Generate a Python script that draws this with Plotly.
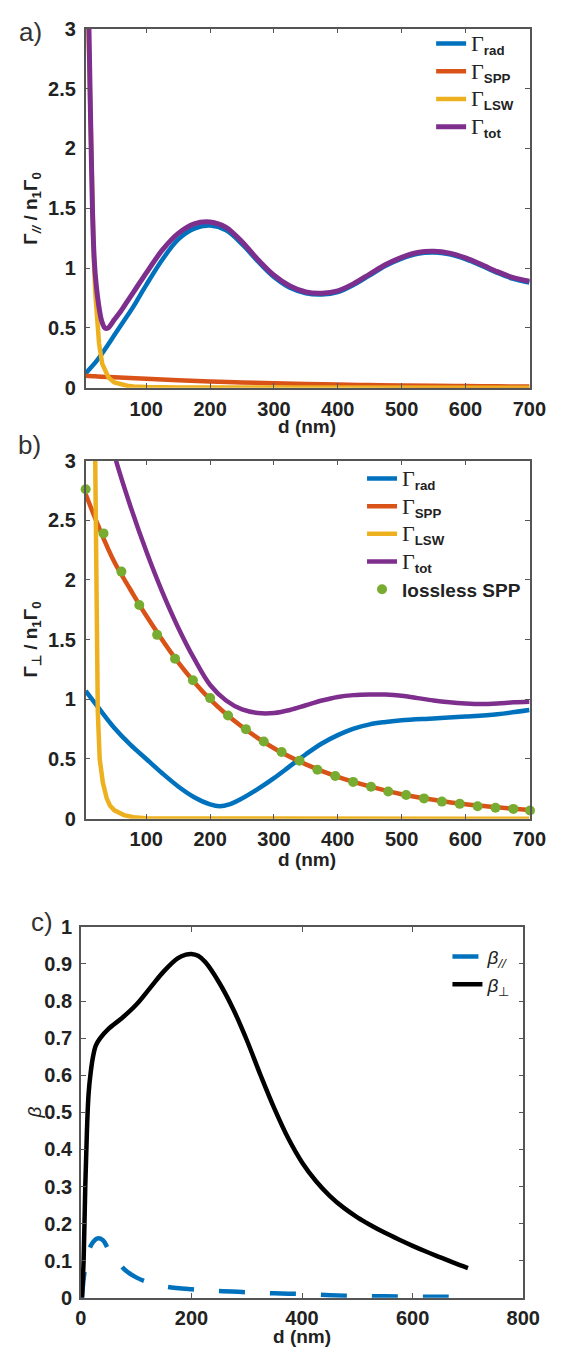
import plotly.graph_objects as go

# ---------------- data: panel a (parallel dipole) ----------------
d_a_rad = [5, 10, 20, 30, 40, 50, 60, 70, 80, 90, 100, 125, 150, 175, 200, 225, 250, 275, 300,
           325, 350, 375, 400, 425, 450, 475, 500, 525, 550, 575, 600, 625, 650, 675, 700]
a_rad = [0.12, 0.15, 0.21, 0.28, 0.36, 0.44, 0.52, 0.60, 0.68, 0.77, 0.86, 1.07, 1.24, 1.33, 1.355,
         1.315, 1.20, 1.055, 0.925, 0.835, 0.79, 0.78, 0.80, 0.86, 0.94, 1.02, 1.08, 1.12, 1.13,
         1.115, 1.075, 1.02, 0.96, 0.91, 0.88]
d_a_spp = [5, 10, 20, 30, 50, 100, 150, 200, 250, 300, 350, 400, 450, 500, 550, 600, 650, 700]
a_spp = [0.100, 0.099, 0.096, 0.093, 0.088, 0.075, 0.063, 0.053, 0.045, 0.038, 0.032, 0.027,
         0.023, 0.019, 0.016, 0.014, 0.012, 0.010]
d_a_lsw = [5, 8, 10, 12, 15, 18, 20, 23, 26, 31, 36, 41, 50, 60, 70, 80, 100, 150, 200, 300, 400, 500, 600, 700]
a_lsw = [4.0, 3.3, 2.9, 2.4, 1.5, 1.05, 0.80, 0.55, 0.37, 0.20, 0.13, 0.085, 0.045, 0.027, 0.017,
         0.011, 0.006, 0.003, 0.002, 0.001, 0.001, 0.001, 0.001, 0.001]
d_a_tot = [6, 8, 10, 12, 14, 16, 18, 20, 23, 26, 30, 35, 40, 50, 60, 70, 80, 90, 100, 125, 150, 175,
           200, 225, 250, 275, 300, 325, 350, 375, 400, 425, 450, 475, 500, 525, 550, 575, 600,
           625, 650, 675, 700]
a_tot = [4.0, 3.5, 3.05, 2.45, 1.9, 1.42, 1.12, 0.95, 0.79, 0.67, 0.56, 0.50, 0.50, 0.57, 0.64,
         0.72, 0.80, 0.88, 0.96, 1.15, 1.29, 1.37, 1.385, 1.34, 1.22, 1.07, 0.94, 0.85, 0.80, 0.79,
         0.81, 0.87, 0.95, 1.03, 1.09, 1.13, 1.14, 1.125, 1.085, 1.03, 0.97, 0.92, 0.89]

# ---------------- data: panel b (perpendicular dipole) ----------------
d_b_rad = [5, 25, 50, 75, 100, 125, 150, 175, 200, 215, 230, 250, 275, 300, 325, 350, 375, 400,
           425, 450, 475, 500, 550, 600, 650, 700]
b_rad = [1.07, 0.93, 0.76, 0.62, 0.50, 0.38, 0.27, 0.18, 0.12, 0.105, 0.12, 0.17, 0.25, 0.34,
         0.44, 0.54, 0.63, 0.70, 0.755, 0.79, 0.81, 0.825, 0.84, 0.855, 0.875, 0.91]
d_b_spp = [5, 25, 50, 75, 100, 150, 200, 250, 300, 350, 400, 450, 500, 550, 600, 650, 700]
b_spp = [2.72, 2.45, 2.15, 1.92, 1.70, 1.31, 1.00, 0.77, 0.59, 0.455, 0.35, 0.27, 0.205, 0.158,
         0.12, 0.095, 0.072]
d_b_lsw = [5, 10, 15, 20, 22, 24, 27, 32, 38, 43, 50, 65, 80, 100, 150, 200, 300, 400, 500, 600, 700]
b_lsw = [10.0, 6.5, 4.2, 3.0, 1.9, 0.9, 0.5, 0.3, 0.17, 0.11, 0.07, 0.03, 0.012, 0.004, 0.001,
         0.0, 0.0, 0.0, 0.0, 0.0, 0.0]
d_b_tot = [40, 50, 75, 100, 125, 150, 175, 200, 225, 250, 275, 300, 325, 350, 375, 400, 425, 450,
           475, 500, 525, 550, 575, 600, 625, 650, 675, 700]
b_tot = [3.3, 3.05, 2.62, 2.24, 1.90, 1.60, 1.34, 1.12, 0.99, 0.915, 0.885, 0.885, 0.91, 0.95,
         0.99, 1.02, 1.035, 1.04, 1.04, 1.03, 1.01, 0.99, 0.975, 0.965, 0.96, 0.965, 0.975, 0.98]
d_b_lossless = [5, 33, 61, 89, 117, 145, 173, 200, 228, 256, 284, 312, 340, 368, 396, 424, 452,
                479, 507, 535, 563, 591, 619, 647, 675, 701]
b_lossless = [2.76, 2.39, 2.07, 1.79, 1.54, 1.34, 1.16, 1.01, 0.865, 0.75, 0.646, 0.558, 0.486,
              0.41, 0.357, 0.308, 0.267, 0.228, 0.198, 0.17, 0.143, 0.124, 0.104, 0.091, 0.082, 0.069]

# ---------------- data: panel c (beta factors) ----------------
d_c_par = [2, 5, 10, 15, 22, 30, 40, 50, 65, 80, 100, 125, 150, 200, 250, 300, 350, 400, 450,
           500, 550, 600, 650, 700]
c_par = [0.0, 0.05, 0.10, 0.13, 0.15, 0.16, 0.155, 0.13, 0.10, 0.075, 0.055, 0.04, 0.031, 0.023,
         0.018, 0.015, 0.012, 0.010, 0.007, 0.005, 0.004, 0.003, 0.003, 0.002]
d_c_perp = [2, 5, 8, 11, 14, 18, 22, 27, 35, 50, 75, 100, 125, 150, 175, 190, 200, 212, 225, 250,
            275, 300, 325, 350, 375, 400, 425, 450, 475, 500, 525, 550, 575, 600, 625, 650, 675, 700]
c_perp = [0.0, 0.10, 0.30, 0.45, 0.55, 0.61, 0.65, 0.68, 0.70, 0.725, 0.755, 0.79, 0.835, 0.88,
          0.915, 0.925, 0.927, 0.922, 0.905, 0.85, 0.78, 0.695, 0.60, 0.51, 0.43, 0.365, 0.315,
          0.275, 0.243, 0.217, 0.195, 0.175, 0.157, 0.14, 0.124, 0.109, 0.094, 0.08]

# tick values / labels
ab_xticks = [100, 200, 300, 400, 500, 600, 700]
ab_yticks = [0, 0.5, 1, 1.5, 2, 2.5, 3]
ab_ylabels = ["0", "0.5", "1", "1.5", "2", "2.5", "3"]
c_xticks = [0, 200, 400, 600, 800]
c_yticks = [0, 0.1, 0.2, 0.3, 0.4, 0.5, 0.6, 0.7, 0.8, 0.9, 1]
c_ylabels = ["0", "0.1", "0.2", "0.3", "0.4", "0.5", "0.6", "0.7", "0.8", "0.9", "1"]

# ---------------- styles ----------------
BLUE = "#0072BD"
ORANGE = "#D95319"
YELLOW = "#EDB120"
PURPLE = "#7E2F8E"
GREEN = "#77AC30"
W, H = 570, 1355
SANS = "Liberation Sans, Arial, sans-serif"
AX = "#555555"
TXT = "#222222"


def px(x):
    return x / W


def py(y):
    return 1 - y / H


def gam(sub):
    return ('<span style="font-family:Liberation Serif;font-size:22px">Γ</span>'
            '<sub><b>%s</b></sub>' % sub)


fig = go.Figure()

# panel a
fig.add_trace(go.Scatter(x=d_a_rad, y=a_rad, mode="lines", line=dict(color=BLUE, width=4.5, shape="spline"),
                         name=gam("rad"), legend="legend", xaxis="x", yaxis="y"))
fig.add_trace(go.Scatter(x=d_a_spp, y=a_spp, mode="lines", line=dict(color=ORANGE, width=4.5, shape="spline"),
                         name=gam("SPP"), legend="legend", xaxis="x", yaxis="y"))
fig.add_trace(go.Scatter(x=d_a_lsw, y=a_lsw, mode="lines", line=dict(color=YELLOW, width=4.5),
                         name=gam("LSW"), legend="legend", xaxis="x", yaxis="y"))
fig.add_trace(go.Scatter(x=d_a_tot, y=a_tot, mode="lines", line=dict(color=PURPLE, width=5, shape="spline", smoothing=0.8),
                         name=gam("tot"), legend="legend", xaxis="x", yaxis="y"))

# panel b
fig.add_trace(go.Scatter(x=d_b_rad, y=b_rad, mode="lines", line=dict(color=BLUE, width=4.5, shape="spline"),
                         name=gam("rad"), legend="legend2", xaxis="x2", yaxis="y2"))
fig.add_trace(go.Scatter(x=d_b_spp, y=b_spp, mode="lines", line=dict(color=ORANGE, width=4.5, shape="spline"),
                         name=gam("SPP"), legend="legend2", xaxis="x2", yaxis="y2"))
fig.add_trace(go.Scatter(x=d_b_lsw, y=b_lsw, mode="lines", line=dict(color=YELLOW, width=4.5),
                         name=gam("LSW"), legend="legend2", xaxis="x2", yaxis="y2"))
fig.add_trace(go.Scatter(x=d_b_tot, y=b_tot, mode="lines", line=dict(color=PURPLE, width=4.5, shape="spline"),
                         name=gam("tot"), legend="legend2", xaxis="x2", yaxis="y2"))
fig.add_trace(go.Scatter(x=d_b_lossless, y=b_lossless, mode="markers",
                         marker=dict(color=GREEN, size=10), cliponaxis=False,
                         name="<b>lossless SPP</b>", legend="legend2", xaxis="x2", yaxis="y2"))

# panel c
fig.add_trace(go.Scatter(x=d_c_par, y=c_par, mode="lines",
                         line=dict(color=BLUE, width=4.5, dash="26px,25px", shape="spline"),
                         name='<i>β</i><sub><i>//</i></sub>', legend="legend3", xaxis="x3", yaxis="y3"))
fig.add_trace(go.Scatter(x=d_c_perp, y=c_perp, mode="lines",
                         line=dict(color="#000000", width=4.5, shape="spline"),
                         name='<i>β</i><sub>⊥</sub>', legend="legend3", xaxis="x3", yaxis="y3"))

tickfont = dict(family=SANS, size=20, color=TXT, weight="bold")
axcommon = dict(showline=True, linecolor=AX, linewidth=1.5, mirror="ticks", ticks="inside",
                ticklen=5, tickwidth=1.2, tickcolor=AX, showgrid=False, zeroline=False,
                tickfont=tickfont)

dom_ab_x = [px(83), px(546)]
fig.update_layout(
    width=W, height=H, margin=dict(l=0, r=0, t=0, b=0),
    paper_bgcolor="white", plot_bgcolor="white",
    xaxis=dict(domain=dom_ab_x, range=[5, 701], tickvals=ab_xticks, anchor="y",
               ticklabelstandoff=2, **axcommon),
    yaxis=dict(domain=[py(383), py(18)], range=[0, 3], tickvals=ab_yticks, ticktext=ab_ylabels,
               anchor="x", ticklabelstandoff=4, **axcommon),
    xaxis2=dict(domain=dom_ab_x, range=[5, 701], tickvals=ab_xticks, anchor="y2",
                ticklabelstandoff=2, **axcommon),
    yaxis2=dict(domain=[py(821), py(457)], range=[0, 3], tickvals=ab_yticks, ticktext=ab_ylabels,
                anchor="x2", ticklabelstandoff=4, **axcommon),
    xaxis3=dict(domain=[px(78), px(539)], range=[0, 800], tickvals=c_xticks, anchor="y3",
                ticklabelstandoff=1, **axcommon),
    yaxis3=dict(domain=[py(1308), py(931)], range=[0, 1], tickvals=c_yticks, ticktext=c_ylabels,
                anchor="x3", ticklabelstandoff=3, **axcommon),
    legend=dict(x=px(443), y=py(14), xanchor="left", yanchor="top", bgcolor="rgba(0,0,0,0)",
                font=dict(family=SANS, size=19, color=TXT), tracegroupgap=0, itemwidth=30),
    legend2=dict(x=px(371), y=py(456), xanchor="left", yanchor="top", bgcolor="rgba(0,0,0,0)",
                 font=dict(family=SANS, size=19, color=TXT), tracegroupgap=0, itemwidth=30),
    legend3=dict(x=px(460), y=py(942), xanchor="left", yanchor="top", bgcolor="rgba(0,0,0,0)",
                 font=dict(family=SANS, size=19, color=TXT), tracegroupgap=0, itemwidth=30),
    showlegend=True,
)

ann = []
# panel labels
for t, x, y in [("a)", 26, 21), ("b)", 25, 441), ("c)", 37, 926)]:
    ann.append(dict(text=t, x=px(x), y=py(y), xref="paper", yref="paper", showarrow=False,
                    xanchor="center", yanchor="middle",
                    font=dict(family=SANS, size=26, color="#333333")))
# x titles
for x, y in [(314, 422), (314, 862), (308, 1347)]:
    ann.append(dict(text="<b>d (nm)</b>", x=px(x), y=py(y), xref="paper", yref="paper",
                    showarrow=False, xanchor="center", yanchor="middle",
                    font=dict(family=SANS, size=19, color=TXT)))
# y titles
ytitles = [("<b>Γ<sub><i>//</i></sub> / n<sub>1</sub>Γ<sub>0</sub></b>", 27, 200),
           ("<b>Γ<sub>⊥</sub> / n<sub>1</sub>Γ<sub>0</sub></b>", 27, 639),
           ("<i>β</i>", 30, 1120)]
for t, x, y in ytitles:
    ann.append(dict(text=t, x=px(x), y=py(y), xref="paper", yref="paper", showarrow=False,
                    xanchor="center", yanchor="middle", textangle=-90,
                    font=dict(family=SANS, size=19, color=TXT)))
fig.update_layout(annotations=ann)

fig.write_html("out.html", config={"displayModeBar": False},
               post_script="document.body.style.margin='0px';")
